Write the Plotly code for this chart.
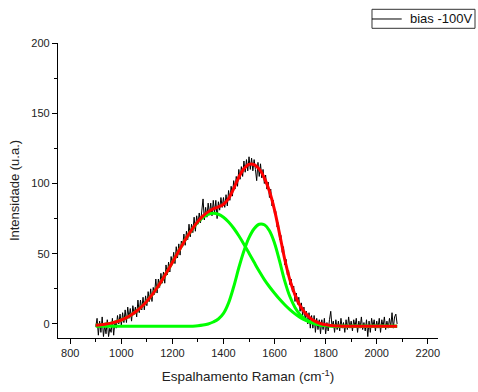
import numpy as np
import plotly.graph_objects as go

# Raman shift grid of the measured spectrum (cm^-1)
shift = np.arange(900, 2081, 5)

# Measured intensity, bias -100V (u.a.)
intensity = [
    -2, 4, -8, 2, -6, 5, -9, -1, -7, 3, -9, -3, -6, 4, -8, 2, -3, 6, 0, 7, -1,
    8, 1, 10, 1, 12, 4, 11, 2, 13, 7, 12, 5, 17, 8, 17, 10, 19, 10, 20, 13,
    23, 16, 25, 16, 26, 21, 32, 22, 32, 26, 36, 29, 37, 29, 42, 35, 44, 37, 48, 42,
    51, 43, 55, 47, 57, 49, 59, 55, 64, 56, 66, 60, 71, 62, 71, 65, 76, 66, 77, 71,
    79, 72, 80, 89, 74, 83, 76, 86, 78, 86, 77, 88, 79, 88, 75, 87, 81, 90, 83, 90,
    83, 92, 84, 95, 88, 98, 91, 102, 96, 105, 98, 110, 103, 112, 105, 116, 108, 117, 109, 119,
    110, 118, 109, 117, 110, 102, 115, 105, 114, 104, 110, 100, 106, 96, 101, 90, 96, 84, 88, 78,
    80, 69, 72, 60, 63, 51, 55, 42, 46, 35, 38, 28, 32, 23, 27, 16, 22, 14, 19, 9,
    15, 6, 12, 3, 9, 0, 8, -3, 6, -3, 6, -6, 4, -4, 3, -7, 3, -4, 4, -7,
    1, -5, 3, 9, -2, 2, -6, 3, -4, 2, -5, 4, -3, 1, -6, 3, -4, 5, -3, 2,
    -5, 3, -2, 4, -6, 2, -3, 5, -4, 1, -5, 3, -9, 2, -6, 4, -2, 3, -5, 2,
    -3, 4, -6, 3, -2, 5, -4, 2, -3, 4, -2, 8, -3, 5, 7, 0,
]

# Fitted components sampled every 20 cm^-1
fit_shift = np.arange(900, 2081, 20)

peak_d = [
    -0.97, -0.61, -0.10, 0.60, 1.55, 2.82, 4.47, 6.57, 9.19, 12.40,
    16.22, 20.68, 25.76, 31.39, 37.49, 43.87, 50.38, 56.75, 62.76, 68.13,
    72.61, 75.98, 78.09, 78.80, 78.09, 75.98, 72.61, 68.13, 62.76, 56.75,
    50.38, 43.87, 37.49, 31.60, 26.50, 21.90, 17.60, 13.70, 10.20, 7.20,
    4.70, 2.70, 1.10, 0.00, -0.70, -1.15, -1.40, -1.55, -1.63, -1.67,
    -1.70, -1.70, -1.70, -1.70, -1.70, -1.70, -1.70, -1.70, -1.70, -1.70,
]

peak_g = [
    -1.70, -1.70, -1.70, -1.70, -1.70, -1.70, -1.70, -1.70, -1.70, -1.70,
    -1.70, -1.70, -1.70, -1.70, -1.70, -1.70, -1.70, -1.70, -1.65, -1.55,
    -1.30, -0.80, 0.00, 1.40, 3.50, 7.50, 15.00, 26.50, 40.00, 52.00,
    61.50, 67.80, 71.00, 70.60, 66.30, 57.50, 44.50, 30.50, 19.50, 11.80,
    6.60, 3.40, 1.40, 0.10, -0.70, -1.15, -1.40, -1.55, -1.63, -1.67,
    -1.70, -1.70, -1.70, -1.70, -1.70, -1.70, -1.70, -1.70, -1.70, -1.70,
]

cumulative_fit = [
    -0.97, -0.61, -0.10, 0.60, 1.55, 2.82, 4.47, 6.57, 9.19, 12.40,
    16.22, 20.68, 25.76, 31.39, 37.49, 43.87, 50.38, 56.75, 62.81, 68.28,
    73.01, 76.88, 79.79, 81.90, 83.29, 85.18, 89.31, 96.33, 104.46, 110.45,
    113.58, 113.37, 110.19, 103.90, 94.50, 81.10, 63.80, 45.90, 31.40, 20.70,
    13.00, 7.80, 4.20, 1.80, 0.30, -0.60, -1.10, -1.40, -1.56, -1.64,
    -1.70, -1.70, -1.70, -1.70, -1.70, -1.70, -1.70, -1.70, -1.70, -1.70,
]

legend_label = "bias -100V"

fig = go.Figure()

fig.add_trace(go.Scatter(
    x=shift, y=intensity, mode="lines", name=legend_label, showlegend=False,
    line=dict(color="black", width=1),
))
fig.add_trace(go.Scatter(
    x=fit_shift, y=peak_d, mode="lines", showlegend=False,
    line=dict(color="#00ff00", width=3, shape="spline"),
))
fig.add_trace(go.Scatter(
    x=fit_shift, y=peak_g, mode="lines", showlegend=False,
    line=dict(color="#00ff00", width=3, shape="spline"),
))
fig.add_trace(go.Scatter(
    x=fit_shift, y=cumulative_fit, mode="lines", showlegend=False,
    line=dict(color="#ff0000", width=3, shape="spline"),
))

font_family = "Liberation Sans, Arial, sans-serif"
axis_font = dict(family=font_family, size=11, color="#222")

# Boxed legend in the top-right corner (paper coordinates)
fig.add_shape(type="rect", xref="paper", yref="paper",
              x0=0.8263, x1=1.0974, y0=1.0498, y1=1.1142,
              line=dict(color="#333", width=1), fillcolor="white")
fig.add_shape(type="line", xref="paper", yref="paper",
              x0=0.8263, x1=0.9045, y0=1.0814, y1=1.0814,
              line=dict(color="black", width=1))
fig.add_annotation(xref="paper", yref="paper", x=0.9211, y=1.0814,
                   xanchor="left", yanchor="middle", showarrow=False,
                   text=legend_label,
                   font=dict(family=font_family, size=13, color="#111"))

fig.update_layout(
    width=478, height=392,
    margin=dict(l=58, r=40, t=43, b=54, autoexpand=False),
    paper_bgcolor="white", plot_bgcolor="white",
    showlegend=False,
    xaxis=dict(
        range=[752, 2240], tick0=800, dtick=200, automargin=False,
        showline=True, linecolor="black", linewidth=1.3, mirror=False,
        ticks="outside", ticklen=5, tickwidth=1, tickcolor="black",
        minor=dict(ticks="outside", ticklen=3, tickcolor="black", dtick=100, tick0=800, showgrid=False),
        showgrid=False, zeroline=False,
        tickfont=axis_font,
        title=dict(text="Espalhamento Raman (cm<sup>-1</sup>)",
                   font=dict(family=font_family, size=13.5, color="#222"), standoff=13),
    ),
    yaxis=dict(
        range=[-10, 200], tick0=0, dtick=50, automargin=False,
        showline=True, linecolor="black", linewidth=1.3, mirror=False,
        ticks="outside", ticklen=5, tickwidth=1, tickcolor="black",
        minor=dict(ticks="outside", ticklen=3, tickcolor="black", dtick=25, tick0=0, showgrid=False),
        showgrid=False, zeroline=False,
        tickfont=axis_font,
        title=dict(text="Intensidade (u.a.)",
                   font=dict(family=font_family, size=13, color="#222"), standoff=8),
    ),
)

fig.write_html("out.html")
